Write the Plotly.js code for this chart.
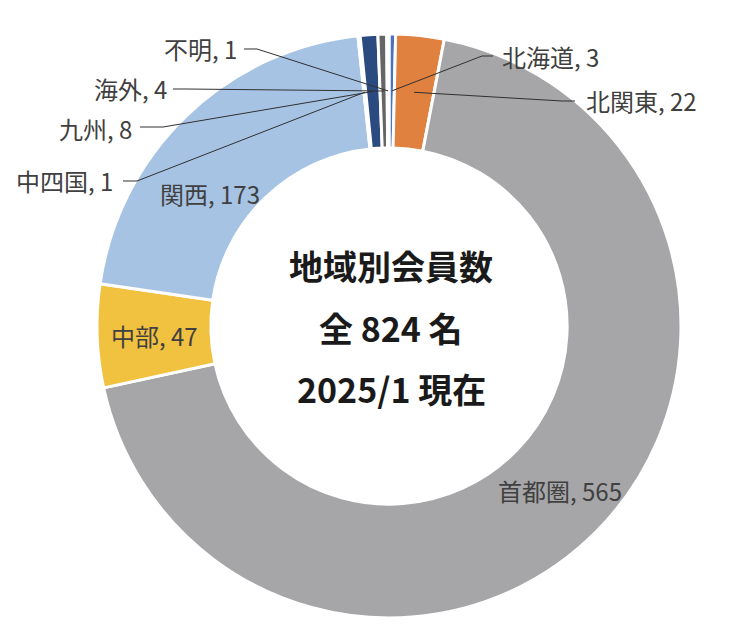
<!DOCTYPE html>
<html><head><meta charset="utf-8">
<script src="https://cdn.plot.ly/plotly-3.0.1.min.js"></script>
<style>html,body{margin:0;padding:0;background:#fff}</style>
</head><body><div id="chart" style="width:746px;height:642px"></div>
<script>
// ---- data ----
const regions = ['北海道','北関東','首都圏','中部','関西','中四国','九州','海外','不明'];
const members = [3, 22, 565, 47, 173, 1, 8, 4, 1];
const sliceColors = ['#4A72C0','#E0813F','#A6A6A8','#F1C140','#A7C3E4','#70AD47','#2B4A80','#666666','#9E480E'];
const centerLines = ['地域別会員数', '全 824 名', '2025/1 現在'];

// ---- layout (pixels) ----
const W = 746, H = 642, CX = 389, CY = 326, R = 292, HOLE = 0.61;
const RM = R * (1 + HOLE) / 2;
const labelPlace = {
  '北海道': {x: 500, y: 57,  xa: 'left',   path: [[493, 56], [482, 56]]},
  '北関東': {x: 584, y: 101, xa: 'left',   path: [[575, 101], [562, 101]]},
  '首都圏': {x: 560, y: 490, xa: 'center', path: null},
  '中部':   {x: 154, y: 336, xa: 'center', path: null},
  '関西':   {x: 210, y: 193, xa: 'center', path: null},
  '中四国': {x: 115, y: 181, xa: 'right',  path: [[123, 181], [137, 181]]},
  '九州':   {x: 134, y: 128, xa: 'right',  path: [[140, 127], [163, 127]]},
  '海外':   {x: 169, y: 89,  xa: 'right',  path: [[173, 89], [186, 89]]},
  '不明':   {x: 239, y: 49,  xa: 'right',  path: [[244, 49], [257, 49]]}
};
const centerY = [266, 328, 388];

const px = x => x / W, py = y => 1 - y / H;
const total = members.reduce((a, b) => a + b, 0);

const annotations = [];
const shapes = [];
let cum = 0;
regions.forEach((name, i) => {
  const v = members[i];
  const th = (cum + v / 2) / total * 2 * Math.PI;
  cum += v;
  const ax = CX + RM * Math.sin(th), ay = CY - RM * Math.cos(th);
  const p = labelPlace[name];
  annotations.push({
    x: px(p.x), y: py(p.y), xref: 'paper', yref: 'paper',
    xanchor: p.xa, yanchor: 'middle', showarrow: false,
    text: name + ', ' + v,
    font: {family: '"Noto Sans CJK JP", "Noto Sans", sans-serif', size: 24, color: '#404040'}
  });
  if (p.path) {
    const pts = p.path.concat([[ax, ay]]);
    const d = pts.map((q, k) => (k ? 'L' : 'M') + px(q[0]).toFixed(5) + ',' + py(q[1]).toFixed(5)).join(' ');
    shapes.push({type: 'path', xref: 'paper', yref: 'paper', path: d,
      line: {color: '#303030', width: 1}});
  }
});
centerLines.forEach((t, i) => {
  annotations.push({
    x: px(391), y: py(centerY[i]), xref: 'paper', yref: 'paper',
    xanchor: 'center', yanchor: 'middle', showarrow: false,
    text: '<b>' + t + '</b>',
    font: {family: '"Noto Sans CJK JP", sans-serif', size: 34, color: '#1a1a1a'}
  });
});

const trace = {
  type: 'pie', labels: regions, values: members, hole: HOLE,
  sort: false, direction: 'clockwise', rotation: 0,
  marker: {colors: sliceColors, line: {color: '#ffffff', width: 3}},
  textinfo: 'none', hoverinfo: 'label+value',
  domain: {x: [px(CX - R), px(CX + R)], y: [py(CY + R), py(CY - R)]}
};

Plotly.newPlot('chart', [trace], {
  width: W, height: H, margin: {l: 0, r: 0, t: 0, b: 0},
  showlegend: false, paper_bgcolor: '#ffffff',
  annotations: annotations, shapes: shapes
}, {displayModeBar: false, staticPlot: true});
</script>
</body></html>
